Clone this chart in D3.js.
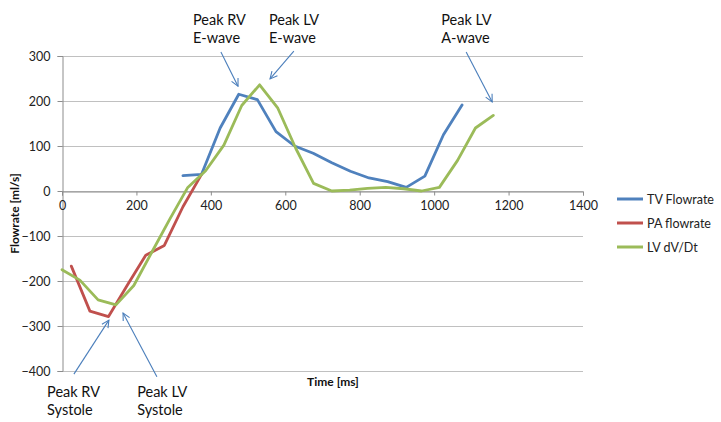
<!DOCTYPE html>
<html>
<head>
<meta charset="utf-8">
<script src="https://cdn.jsdelivr.net/npm/d3@7"></script>
<style>
  html, body { margin: 0; padding: 0; background: #fff; }
  svg { display: block; }
  text { font-family: Lato, "Open Sans", sans-serif; }
</style>
</head>
<body>
<svg id="chart" width="721" height="422"></svg>
<script>
// ---- data ----
const tvTime = [325, 375, 425, 475, 525, 575, 625, 675, 725, 775, 825, 875, 925, 975, 1025, 1075];
const tvFlow = [34, 37, 140, 215, 203, 132, 100, 84, 63, 44, 29, 21, 8, 33, 125, 191];

const paTime = [25, 75, 125, 175, 225, 275, 325, 375];
const paFlow = [-167, -267, -279, -210, -143, -121, -35, 37];

const lvTime = [0, 48, 97, 145, 193, 242, 290, 338, 386, 435, 483, 531, 580, 628, 676, 725, 773, 821, 870, 918, 966, 1014, 1063, 1111, 1159];
const lvFlow = [-175, -198, -242, -253, -210, -135, -62, 8, 45, 102, 190, 236, 184, 95, 17, 0, 2, 6, 8, 5, 0, 8, 68, 140, 168];

const seriesNames = ["TV Flowrate", "PA flowrate", "LV dV/Dt"];
const seriesColors = ["#4F81BD", "#C0504D", "#9BBB59"];

const xTicks = [0, 200, 400, 600, 800, 1000, 1200, 1400];
const yTicks = [-400, -300, -200, -100, 0, 100, 200, 300];

// annotations: label lines, text anchor (data units), arrow from -> to (data units)
const annLabels = [["Peak RV", "Systole"], ["Peak LV", "Systole"], ["Peak RV", "E-wave"], ["Peak LV", "E-wave"], ["Peak LV", "A-wave"]];
const annTextAt = [[-40, -458], [202, -458], [352, 369], [556, 369], [1019, 369]];
const annFrom = [[32, -407], [255, -413], [427, 309], [623, 311], [1086, 309]];
const annTo = [[126, -287], [164, -271], [473, 233], [559, 249], [1156, 198]];

// ---- layout ----
const W = 721, H = 422;
const m = { left: 62, right: 138, top: 56, bottom: 51 };
const svg = d3.select("#chart");

const x = d3.scaleLinear().domain([0, 1400]).range([m.left, W - m.right]);
const y = d3.scaleLinear().domain([-400, 300]).range([H - m.bottom, m.top]);

// gridlines
svg.append("g")
  .selectAll("line").data(yTicks).join("line")
  .attr("x1", x(0)).attr("x2", x(1400))
  .attr("y1", d => y(d) + 0.5).attr("y2", d => y(d) + 0.5)
  .attr("stroke", "#C0C0C0").attr("stroke-width", 1);

// y axis
const yAxis = d3.axisLeft(y).tickValues(yTicks).tickSize(5).tickPadding(7).tickFormat(d3.format("d"));
const gy = svg.append("g").attr("transform", `translate(${x(0) + 0.5},0)`).call(yAxis);
gy.select(".domain").attr("stroke", "#8C8C8C");
gy.selectAll(".tick line").attr("stroke", "#8C8C8C");
gy.selectAll(".tick text").attr("font-size", 12.5).attr("fill", "#222").attr("font-family", "Lato");

// x axis at y=0
const xAxis = d3.axisBottom(x).tickValues(xTicks).tickSize(4).tickPadding(6).tickFormat(d3.format("d"));
const gx = svg.append("g").attr("transform", `translate(0,${y(0) + 0.5})`).call(xAxis);
gx.select(".domain").attr("stroke", "#8C8C8C");
gx.selectAll(".tick line").attr("stroke", "#8C8C8C");
gx.selectAll(".tick text").attr("font-size", 12.5).attr("fill", "#222").attr("font-family", "Lato");

// axis titles
svg.append("text").attr("transform", `translate(19,${(y(300) + y(-400)) / 2}) rotate(-90)`)
  .attr("text-anchor", "middle").attr("font-size", 12).attr("font-weight", "bold").attr("fill", "#111")
  .text("Flowrate [ml/s]");
svg.append("text").attr("x", 333).attr("y", 386)
  .attr("text-anchor", "middle").attr("font-size", 12).attr("font-weight", "bold").attr("fill", "#111")
  .text("Time [ms]");

// series lines
const line = d3.line().x(d => x(d[0])).y(d => y(d[1]));
const seriesData = [
  d3.zip(tvTime, tvFlow),
  d3.zip(paTime, paFlow),
  d3.zip(lvTime, lvFlow)
];
// draw order: TV, PA, LV (LV on top)
seriesData.forEach((pts, i) => {
  svg.append("path").datum(pts).attr("d", line)
    .attr("fill", "none").attr("stroke", seriesColors[i]).attr("stroke-width", 2.8)
    .attr("stroke-linejoin", "round").attr("stroke-linecap", "round");
});

// legend
const lg = svg.append("g");
seriesNames.forEach((n, i) => {
  const ly = 199 + i * 24;
  lg.append("line").attr("x1", 617).attr("x2", 643).attr("y1", ly).attr("y2", ly)
    .attr("stroke", seriesColors[i]).attr("stroke-width", 3);
  lg.append("text").attr("x", 647).attr("y", ly + 4.5).attr("font-size", 12.5).attr("fill", "#222").text(n);
});

// annotation arrows
const defs = svg.append("defs");
defs.append("marker").attr("id", "arr").attr("viewBox", "0 0 10 10")
  .attr("refX", 9).attr("refY", 5).attr("markerWidth", 9).attr("markerHeight", 9)
  .attr("markerUnits", "userSpaceOnUse").attr("orient", "auto")
  .append("path").attr("d", "M1,1 L9,5 L1,9").attr("fill", "none").attr("stroke", "#4A7EBB").attr("stroke-width", 1.2);

annLabels.forEach((lab, i) => {
  svg.append("line")
    .attr("x1", x(annFrom[i][0])).attr("y1", y(annFrom[i][1]))
    .attr("x2", x(annTo[i][0])).attr("y2", y(annTo[i][1]))
    .attr("stroke", "#4A7EBB").attr("stroke-width", 1.1).attr("marker-end", "url(#arr)");
  const t = svg.append("text").attr("x", x(annTextAt[i][0])).attr("y", y(annTextAt[i][1]))
    .attr("font-size", 14.5).attr("fill", "#111");
  lab.forEach((s, k) => {
    t.append("tspan").attr("x", x(annTextAt[i][0])).attr("dy", k === 0 ? 0 : 18).text(s);
  });
});
</script>
</body>
</html>
